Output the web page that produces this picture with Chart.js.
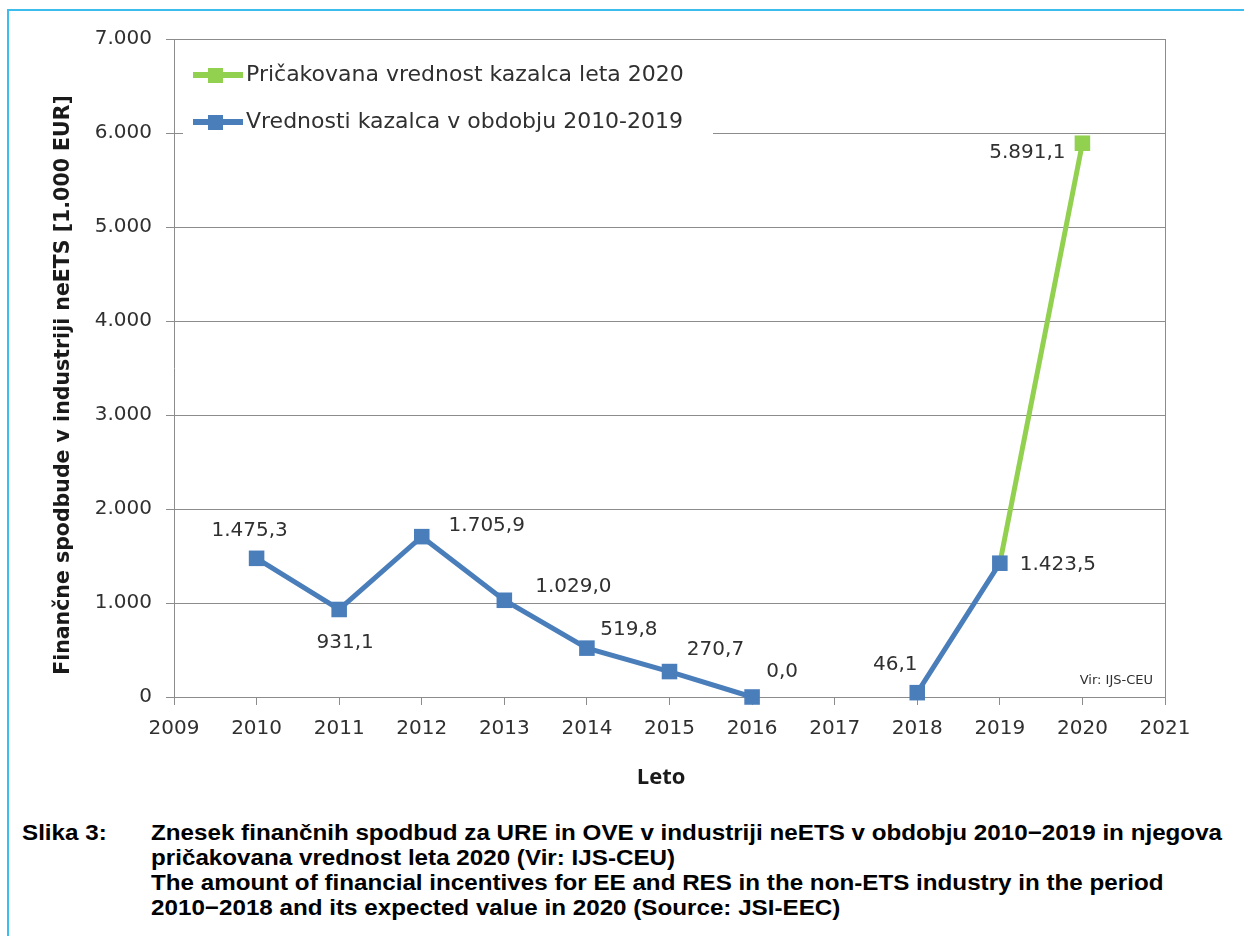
<!DOCTYPE html>
<html>
<head>
<meta charset="utf-8">
<script src="https://cdn.jsdelivr.net/npm/chart.js@4.4.1/dist/chart.umd.min.js"></script>
<style>
html,body{margin:0;padding:0;background:#fff;width:1244px;height:936px;overflow:hidden;}
#wrap{position:absolute;left:0;top:0;width:1244px;height:800px;}
#frameTop{position:absolute;left:7px;top:9px;width:1237px;height:2px;background:#3dbdee;}
#frameLeft{position:absolute;left:7px;top:9px;width:2px;height:927px;background:#3dbdee;}
.cap{position:absolute;font-family:"Liberation Sans",Arial,sans-serif;font-weight:bold;font-size:22px;line-height:25px;color:#000;white-space:nowrap;transform:scaleX(1.1);transform-origin:0 0;}
</style>
</head>
<body>
<div id="frameTop"></div>
<div id="frameLeft"></div>
<div id="wrap"><canvas id="c" width="1244" height="800"></canvas></div>
<div class="cap" style="left:22px;top:820px;">Slika 3:</div>
<div class="cap" style="left:151px;top:820px;">Znesek finančnih spodbud za URE in OVE v industriji neETS v obdobju 2010−2019 in njegova<br>pričakovana vrednost leta 2020 (Vir: IJS-CEU)<br>The amount of financial incentives for EE and RES in the non-ETS industry in the period<br>2010−2018 and its expected value in 2020 (Source: JSI-EEC)</div>
<script>
// ---- data ----
const years = [2010, 2011, 2012, 2013, 2014, 2015, 2016, 2017, 2018, 2019];
const actualValues = [1475.3, 931.1, 1705.9, 1029.0, 519.8, 270.7, 0.0, null, 46.1, 1423.5];
const expectedYears = [2019, 2020];
const expectedValues = [1423.5, 5891.1];
const seriesNames = ['Vrednosti kazalca v obdobju 2010-2019', 'Pričakovana vrednost kazalca leta 2020'];
const yAxisTitle = 'Finančne spodbude v industriji neETS [1.000 EUR]';
const xAxisTitle = 'Leto';
const sourceNote = 'Vir: IJS-CEU';

// ---- styling ----
const BLUE = '#4A7EBB';
const GREEN = '#92D050';
const GRID = '#8c8c8c';
const TXT = '#303030';
// label placement (pixel offsets from each point)
const actualLabelOffsets = [[-7,-28],[6,33],[65,-11],[69,-13],[42,-18],[46,-22],[30,-25],null,[-22,-28],[58,2]];
const expectedLabelOffsets = [null, [-55,10]];

function fmt(v, dec) {
  const s = v.toFixed(dec);
  let [ip, fp] = s.split('.');
  ip = ip.replace(/\B(?=(\d{3})+(?!\d))/g, '.');
  return fp !== undefined ? ip + ',' + fp : ip;
}

const labelPlugin = {
  id: 'customDraw',
  afterDraw(chart) {
    const ctx = chart.ctx;
    const ca = chart.chartArea;
    ctx.save();
    // right border of plot
    ctx.strokeStyle = GRID; ctx.lineWidth = 1;
    ctx.beginPath(); ctx.moveTo(Math.round(ca.right) + 0.5, ca.top); ctx.lineTo(Math.round(ca.right) + 0.5, ca.bottom); ctx.stroke();

    // data labels
    ctx.font = '20px "DejaVu Sans"';
    ctx.fillStyle = TXT;
    ctx.textAlign = 'center';
    ctx.textBaseline = 'middle';
    const m0 = chart.getDatasetMeta(0).data;
    actualValues.forEach((v, i) => {
      if (v === null || !actualLabelOffsets[i]) return;
      const p = m0[i];
      ctx.fillText(fmt(v, 1), p.x + actualLabelOffsets[i][0], p.y + actualLabelOffsets[i][1]);
    });
    const m1 = chart.getDatasetMeta(1).data;
    expectedValues.forEach((v, i) => {
      if (!expectedLabelOffsets[i]) return;
      const p = m1[i];
      ctx.fillText(fmt(v, 1), p.x + expectedLabelOffsets[i][0], p.y + expectedLabelOffsets[i][1]);
    });

    // legend
    ctx.fillStyle = '#ffffff';
    ctx.fillRect(183, 46, 530, 102);
    const items = [[seriesNames[1], GREEN, 75], [seriesNames[0], BLUE, 122]];
    items.forEach(([name, col, y]) => {
      ctx.strokeStyle = col; ctx.lineWidth = 6;
      ctx.beginPath(); ctx.moveTo(193, y); ctx.lineTo(243, y); ctx.stroke();
      ctx.fillStyle = col;
      ctx.fillRect(208, y - 7, 15, 15);
      ctx.fillStyle = TXT;
      ctx.font = '22px "DejaVu Sans"';
      ctx.textAlign = 'left';
      ctx.fillText(name, 246, y);
    });

    // source note
    ctx.font = '13px "DejaVu Sans"';
    ctx.textAlign = 'right';
    ctx.fillStyle = TXT;
    ctx.fillText(sourceNote, 1153, 681);

    // axis titles
    ctx.fillStyle = '#1a1a1a';
    ctx.font = 'bold 20.5px "DejaVu Sans"';
    ctx.textAlign = 'center';
    ctx.save();
    ctx.translate(64, 385);
    ctx.rotate(-Math.PI / 2);
    ctx.fillText(yAxisTitle, 0, 0);
    ctx.restore();
    ctx.font = 'bold 22px "Open Sans"';
    ctx.fillText(xAxisTitle, 661, 778);
    ctx.restore();
  }
};

new Chart(document.getElementById('c'), {
  type: 'line',
  data: {
    datasets: [
      {
        label: seriesNames[0],
        data: years.map((x, i) => ({ x: x, y: actualValues[i] })),
        borderColor: BLUE, backgroundColor: BLUE,
        borderWidth: 5, pointStyle: 'rect', pointRadius: 11, pointBorderWidth: 0,
        pointBackgroundColor: BLUE, spanGaps: false, tension: 0, clip: false
      },
      {
        label: seriesNames[1],
        data: expectedYears.map((x, i) => ({ x: x, y: expectedValues[i] })),
        borderColor: GREEN, backgroundColor: GREEN,
        borderWidth: 5, pointStyle: 'rect', pointRadius: [0, 11], pointBorderWidth: 0,
        pointBackgroundColor: GREEN, tension: 0, clip: false
      }
    ]
  },
  options: {
    responsive: false,
    animation: false,
    events: [],
    layout: { padding: { left: 0, top: 39, right: 79, bottom: 43 } },
    plugins: { legend: { display: false }, tooltip: { enabled: false } },
    scales: {
      x: {
        type: 'linear', min: 2009, max: 2021,
        afterFit(s) { s.height = 60; },
        ticks: { stepSize: 1, autoSkip: false, maxRotation: 0, padding: 12,
          color: TXT, font: { family: 'DejaVu Sans', size: 20 },
          callback: v => String(v) },
        grid: { drawOnChartArea: false, color: GRID, tickLength: 8, lineWidth: 1 },
        border: { color: GRID, width: 1 }
      },
      y: {
        min: 0, max: 7000,
        afterFit(s) { s.width = 174; },
        ticks: { stepSize: 1000, padding: 14, color: TXT,
          font: { family: 'DejaVu Sans', size: 20 },
          callback: v => fmt(v, 0) },
        grid: { color: GRID, tickLength: 8, lineWidth: 1 },
        border: { color: GRID, width: 1 }
      }
    }
  },
  plugins: [labelPlugin]
});
</script>
</body>
</html>
